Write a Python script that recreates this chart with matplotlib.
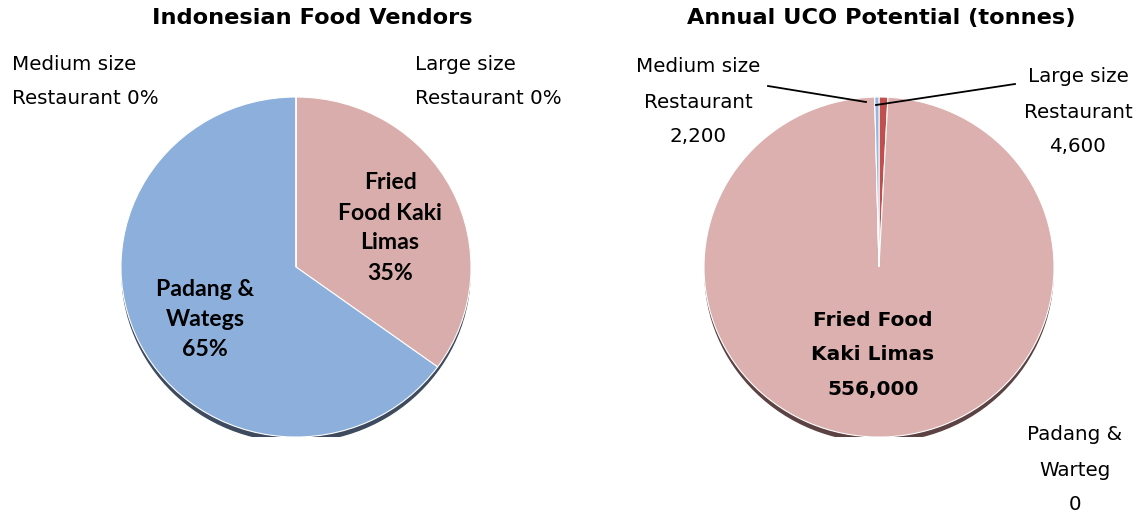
import matplotlib.pyplot as plt
from matplotlib.patches import Ellipse

W, H = 1139, 513

# left pie: share of vendors (clockwise from 12 o'clock)
vendor_labels = ['Fried Food Kaki Limas', 'Padang & Wategs',
                 'Medium size Restaurant', 'Large size Restaurant']
vendor_share = [35, 65, 0, 0]
vendor_colors = ['#D9ADAB', '#8CAFDB', '#8DB3E2', '#C0504D']

# right pie: annual UCO potential in tonnes (clockwise from 12 o'clock)
uco_labels = ['Large size Restaurant', 'Fried Food Kaki Limas',
              'Padang & Warteg', 'Medium size Restaurant']
uco_tonnes = [4600, 556000, 0, 2200]
uco_colors = ['#C0504D', '#DBB0AE', '#8CAFDB', '#95B7E0']


def fx(x):
  return x / W


def fy(y):
  return 1 - y / H


def draw_pie(fig, box, values, colors, shadow):
  x0, y0, x1, y1 = box
  ax = fig.add_axes([fx(x0), fy(y1), (x1 - x0) / W, (y1 - y0) / H])
  ax.add_patch(Ellipse((0, -0.028), 1.99, 2, color=shadow, zorder=0))
  ax.pie(values, colors=colors, startangle=90, counterclock=False,
         radius=1, frame=True,
         wedgeprops=dict(edgecolor='white', linewidth=0.8))
  ax.set_xlim(-1, 1)
  ax.set_ylim(-1, 1)
  ax.set_aspect('auto')
  ax.axis('off')
  return ax


fig = plt.figure(figsize=(W / 100, H / 100), dpi=100)

draw_pie(fig, (121, 97, 471, 437), vendor_share, vendor_colors, '#3E4B5E')
draw_pie(fig, (704, 97, 1054, 437), uco_tonnes, uco_colors, '#5C4242')

# titles
fig.text(fx(312), fy(18), 'Indonesian Food Vendors', ha='center', va='center',
         fontsize=16.2, fontweight='bold')
fig.text(fx(881), fy(18), 'Annual UCO Potential (tonnes)', ha='center', va='center',
         fontsize=16.2, fontweight='bold')


def lines(x, ys, texts, ha='left', **kw):
  for y, t in zip(ys, texts):
    fig.text(fx(x), fy(y), t, ha=ha, va='center', fontsize=14.3, **kw)


# left pie labels
lines(12, [64, 99], ['Medium size', 'Restaurant %d%%' % vendor_share[2]])
lines(415, [64, 99], ['Large size', 'Restaurant %d%%' % vendor_share[3]])
inner = dict(family=['Lato', 'DejaVu Sans'], fontweight='bold')
for y, t in zip([183, 213, 243, 273], ['Fried', 'Food Kaki', 'Limas', '%d%%' % vendor_share[0]]):
  fig.text(fx(390), fy(y), t, ha='center', va='center', fontsize=16.6, **inner)
for y, t in zip([290, 320, 350], ['Padang &', 'Wategs', '%d%%' % vendor_share[1]]):
  fig.text(fx(205), fy(y), t, ha='center', va='center', fontsize=16.6, **inner)

# right pie labels
lines(698, [67, 102, 137], ['Medium size', 'Restaurant', f'{uco_tonnes[3]:,}'], ha='center')
lines(1078, [77, 112, 147], ['Large size', 'Restaurant', f'{uco_tonnes[0]:,}'], ha='center')
lines(1075, [435, 470, 505], ['Padang &', 'Warteg', f'{uco_tonnes[2]:,}'], ha='center')
for y, t in zip([320, 355, 390], ['Fried Food', 'Kaki Limas', f'{uco_tonnes[1]:,}']):
  fig.text(fx(873), fy(y), t, ha='center', va='center', fontsize=14.5, fontweight='bold')

# leader lines
fig.add_artist(plt.Line2D([fx(768), fx(866)], [fy(86), fy(102)], color='black', lw=1.3))
fig.add_artist(plt.Line2D([fx(1015), fx(876)], [fy(84), fy(105)], color='black', lw=1.3))

fig.savefig('out.png', dpi=100)
